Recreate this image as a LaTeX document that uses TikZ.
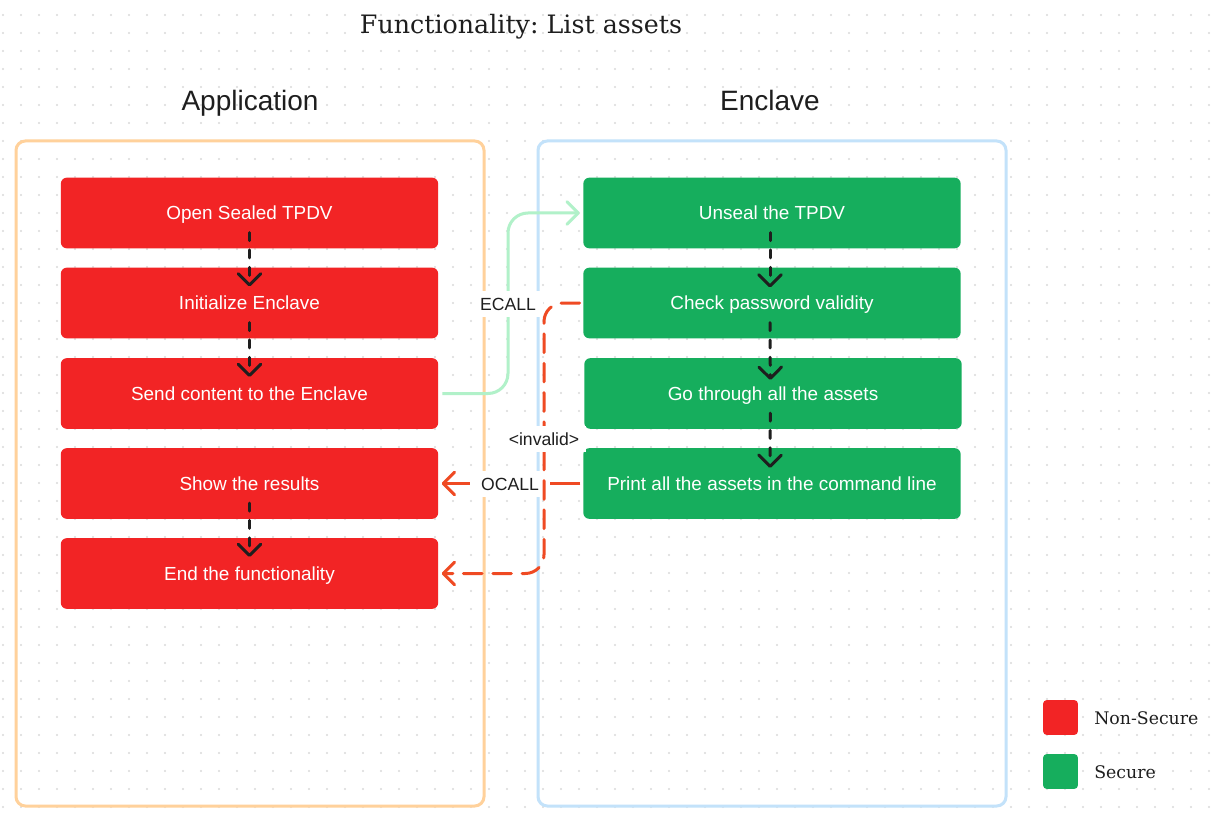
\documentclass[tikz,border=0pt]{standalone}
\usepackage{fontspec}
\setmainfont{Liberation Sans}
\newfontfamily\seriffam{DejaVu Serif}
\usetikzlibrary{arrows.meta,calc}
\frenchspacing
\definecolor{nsred}{HTML}{F22425}
\definecolor{sgreen}{HTML}{16AE5D}
\definecolor{apporange}{HTML}{FFD19B}
\definecolor{encblue}{HTML}{C3E2FA}
\definecolor{mint}{HTML}{B1F1C9}
\definecolor{ocred}{HTML}{EF4A23}
\definecolor{ink}{HTML}{1E1E1E}
\definecolor{dotc}{HTML}{DADADA}
\begin{document}
\begin{tikzpicture}[x=0.75pt,y=-0.75pt,
  box/.style={rounded corners=4.5pt, minimum width=283pt, minimum height=53pt,
    text=white, font=\fontsize{14.2}{16}\selectfont, inner sep=0pt,
    text height=10.2pt, text depth=0pt},
  redbox/.style={box, fill=nsred},
  greenbox/.style={box, fill=sgreen},
  container/.style={line width=2.25pt, rounded corners=7pt},
  heading/.style={font=\fontsize{21}{24}\selectfont, text=ink, text height=15pt, text depth=0pt},
  lbl/.style={font=\fontsize{13.2}{15}\selectfont, text=ink, fill=white, inner xsep=5pt, inner ysep=5pt, text height=9.5pt, text depth=0pt},
  barb/.style={-{Straight Barb[length=8.5pt,width=17pt,line width=2.25pt,round]}},
  flow/.style={draw=ink, line width=2.25pt, line cap=round, dash pattern=on 6pt off 7pt, barb},
  ecall/.style={draw=mint, line width=2.25pt, barb, rounded corners=15pt},
  ocall/.style={draw=ocred, line width=2.25pt, barb},
  invalid/.style={draw=ocred, line width=2.25pt, line cap=round, dash pattern=on 14pt off 8pt, barb, rounded corners=14pt},
  legsq/.style={rounded corners=2.5pt, minimum width=26pt, minimum height=26pt, inner sep=0pt},
  legtxt/.style={font=\seriffam\fontsize{13}{15}\selectfont, text=ink, anchor=west, inner sep=0pt, text height=9.5pt, text depth=0pt}
]
\useasboundingbox (0,0) rectangle (1211,820);
\fill[white] (0,0) rectangle (1211,820);
% dot grid
\foreach \x in {3,21,...,1209} {
  \foreach \y in {15,33,...,807} {
    \fill[dotc] (\x,\y) circle[radius=0.85pt];
  }
}
% title and headings
\node[font=\seriffam\fontsize{19}{22}\selectfont, text=ink, text height=13.9pt, text depth=0pt] (title) at (521,24) {Functionality: List assets};
\node[heading] (apph) at (250,101) {Application};
\node[heading] (ench) at (770,101) {Enclave};
% containers
\draw[container, draw=apporange] (16,141) rectangle (484,806);
\draw[container, draw=encblue] (538,141) rectangle (1006,806);
% application boxes
\node[redbox] (r1) at (249.5,213) {Open Sealed TPDV};
\node[redbox] (r2) at (249.5,303) {Initialize Enclave};
\node[redbox] (r3) at (249.5,393.5) {Send content to the Enclave};
\node[redbox] (r4) at (249.5,483.5) {Show the results};
\node[redbox] (r5) at (249.5,573.5) {End the functionality};
% enclave boxes
\node[greenbox] (g1) at (772,213) {Unseal the TPDV};
\node[greenbox] (g2) at (772,303) {Check password validity};
\node[greenbox] (g3) at (773,393.5) {Go through all the assets};
\node[greenbox] (g4) at (772,483.5) {Print all the assets in the command line};
% vertical flows
\draw[flow] ($(r1.south)+(0,-16)$) -- ($(r2.north)+(0,19)$);
\draw[flow] ($(r2.south)+(0,-16)$) -- ($(r3.north)+(0,19)$);
\draw[flow] ($(r4.south)+(0,-16)$) -- ($(r5.north)+(0,19)$);
\draw[flow] ([xshift=-1.5pt]$(g1.south)+(0,-16)$) -- ([xshift=-1.5pt]$(g2.north)+(0,20)$);
\draw[flow] ([xshift=-1.5pt]$(g2.south)+(0,-16)$) -- ([xshift=-2pt]$(g3.north)+(0,22)$);
\draw[flow] ([xshift=-2pt]$(g3.south)+(0,-16)$) -- ([xshift=-1.5pt]$(g4.north)+(0,20)$);
% ECALL
\coordinate (ecx) at (508,0);
\draw[ecall, shorten <=3pt, shorten >=2.5pt] (r3.east) -| (ecx |- g1.west) -- (g1.west);
\node[lbl] (ecl) at (508,304) {ECALL};
% OCALL
\draw[ocall, shorten <=2pt, shorten >=2.5pt] (g4.west) -- (r4.east);
\node[lbl, inner xsep=8pt] (ocl) at (510,484) {OCALL};
% invalid
\coordinate (ivx) at (544,0);
\draw[invalid, shorten <=2.5pt, shorten >=2.5pt] (g2.west) -| (ivx |- r5.east) -- (r5.east);
\node[lbl] (ivl) at (544,439) {<invalid>};
% legend
\node[legsq, fill=nsred] (lns) at (1060.5,717.5) {};
\node[legtxt] (lnst) at (1094,718) {Non-Secure};
\node[legsq, fill=sgreen] (lsc) at (1060.5,771.5) {};
\node[legtxt] (lsct) at (1094,772) {Secure};
\end{tikzpicture}
\end{document}
